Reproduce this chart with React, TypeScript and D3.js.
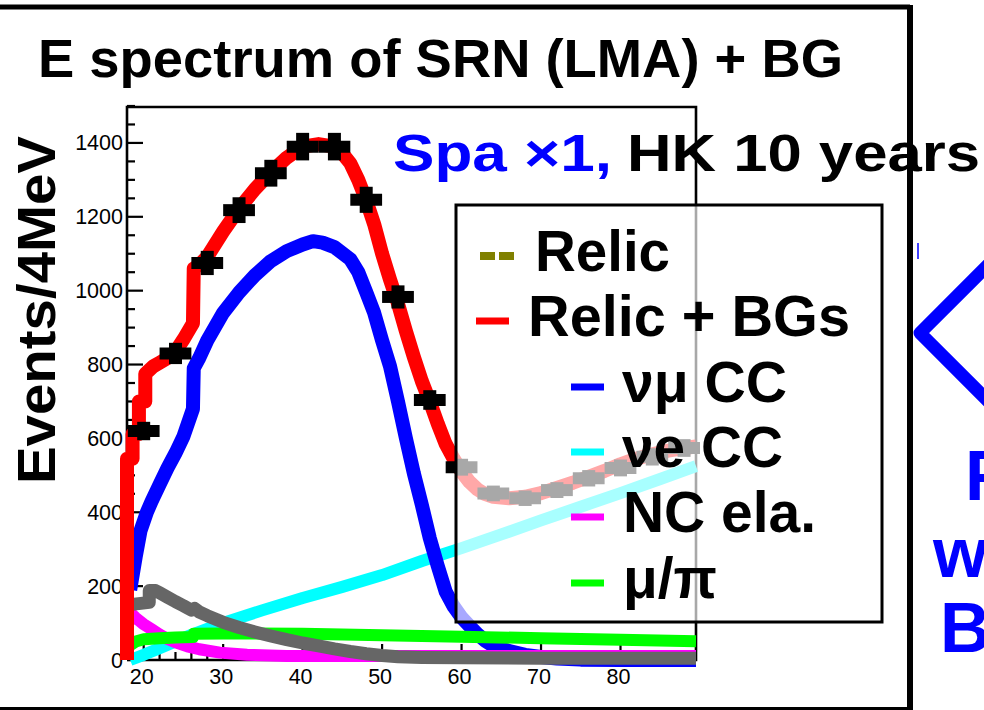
import React from 'react';
import * as d3 from 'd3';

const FONT = '"Liberation Sans", Arial, Helvetica, sans-serif';

// x: reconstructed energy (MeV), y: events / 4 MeV
const xDomain: [number, number] = [17.9, 89.5];
const yDomain: [number, number] = [0, 1500];
const xTickLabels = [20, 30, 40, 50, 60, 70, 80];
const yTickLabels = [0, 200, 400, 600, 800, 1000, 1200, 1400];

// Relic + BGs (red)
const redE = [17.9, 17.9, 18.6, 18.6, 19.4, 19.4, 20.2, 20.2, 21.2, 22, 23, 24, 25, 26.2, 26.3, 27, 28, 30, 32, 34, 36, 38, 40, 42, 44, 45, 46, 47, 48, 49, 50, 51, 52, 53, 54, 55, 56, 57, 58, 59, 60, 61, 62, 63, 64, 66, 68, 70, 72, 74, 76, 78, 80, 82, 84, 86, 88, 89.5];
const redV = [0, 545, 545, 612, 612, 700, 700, 775, 795, 805, 818, 835, 868, 912, 1060, 1070, 1092, 1160, 1222, 1275, 1320, 1360, 1390, 1397, 1390, 1372, 1345, 1300, 1245, 1180, 1100, 1030, 965, 890, 820, 755, 700, 640, 585, 545, 510, 482, 462, 449, 442, 438, 442, 452, 466, 480, 496, 512, 530, 545, 557, 567, 574, 578];

// numu CC (blue)
const blueE = [18.3, 19, 19.6, 20.4, 21, 22, 23, 24, 25, 26.2, 26.3, 27, 28, 30, 32, 34, 36, 38, 40, 41.3, 42.5, 44, 46, 47, 48, 49, 50, 51, 52, 53, 54, 55, 56, 57, 58, 59, 60, 61, 62, 63, 64, 66, 68, 70, 72, 75, 80, 89.5];
const blueV = [190, 280, 350, 400, 430, 475, 520, 560, 605, 680, 790, 818, 865, 940, 995, 1042, 1080, 1107, 1125, 1134, 1130, 1118, 1085, 1050, 996, 940, 865, 795, 700, 600, 505, 420, 330, 255, 185, 145, 115, 92, 70, 52, 38, 24, 14, 8, 4, 1, 0, 0];

// nue CC (cyan)
const cyanE = [18.3, 20, 22, 24, 26, 28, 30, 35, 40, 45, 50, 55, 60, 65, 70, 75, 80, 85, 89.5];
const cyanV = [0, 14, 32, 50, 68, 84, 100, 135, 168, 198, 230, 268, 303, 340, 378, 415, 452, 490, 525];

// NC elastic (magenta)
const magE = [18.3, 19, 20, 21, 22, 23, 24, 25.5, 27, 29.6, 33, 38, 45, 60, 89.5];
const magV = [128, 114, 97, 83, 69, 57, 48, 37, 29, 20, 14, 11, 11, 11, 11];

// mu/pi (green)
const greenE = [18.3, 19, 20, 22, 24, 26.2, 26.3, 30, 40, 50, 60, 70, 80, 89.5];
const greenV = [40, 50, 56, 59, 61, 62, 71, 72, 71, 67, 63, 59, 55, 51];

// other background (grey)
const grayE = [18.3, 20.7, 20.7, 21.5, 22, 23, 24, 25, 26, 26.4, 27, 28, 30, 32, 34, 36, 38, 40, 42, 44, 46, 48, 50, 52, 55, 60, 70, 80, 89.5];
const grayV = [150, 156, 188, 188, 182, 170, 158, 147, 135, 140, 130, 120, 102, 88, 76, 65, 55, 46, 38, 30, 23, 17, 12, 9, 7, 6, 5, 5, 5];

// pseudo data (black)
const dataE = [20, 24, 28, 32, 36, 40, 44, 48, 52, 56, 60, 64, 68, 72, 76, 80, 84, 88];
const dataV = [620, 830, 1075, 1218, 1318, 1390, 1390, 1246, 983, 704, 522, 451, 438, 460, 492, 520, 550, 574];

const legendLabels = ['Relic', 'Relic + BGs', 'νμ CC', 'νe CC', 'NC ela.', 'μ/π'];
const legendColors = ['#808000', '#ff0000', '#0000ff', '#00ffff', '#ff00ff', '#00ff00'];

export default function App() {
  const x = d3.scaleLinear().domain(xDomain).range([127, 696]);
  const y = d3.scaleLinear().domain(yDomain).range([660, 106]);
  const line = d3.line<[number, number]>().x(d => x(d[0])).y(d => y(d[1])).curve(d3.curveLinear);
  const mk = (E: number[], V: number[]) => line(E.map((e, i) => [e, V[i]] as [number, number])) || '';

  const yMinor = d3.range(0, 1501, 50);
  const xMinor = d3.range(18, 90, 2);

  const series = [
    { d: mk(cyanE, cyanV), c: '#00ffff', w: 12 },
    { d: mk(blueE, blueV), c: '#0000ff', w: 14 },
    { d: mk(magE, magV), c: '#ff00ff', w: 12 },
    { d: mk(greenE, greenV), c: '#00ff00', w: 12 },
    { d: mk(grayE, grayV), c: '#666666', w: 13 },
    { d: mk(redE, redV), c: '#ff0000', w: 14 },
  ];

  const legendY = [256, 321, 387, 452, 517, 583];
  const legendTextX = [535, 528, 622, 622, 623, 623];
  const legendTextLen = [135, 322, 165, 161, 193, 94];

  return (
    <svg width={984} height={710} style={{ position: 'absolute', left: 0, top: 0, background: '#fff' }} fontFamily={FONT}>
      <rect x={0} y={0} width={984} height={710} fill="#fff" />
      {/* title */}
      <text x={38} y={77} fontSize={54} fontWeight="bold" textLength={805} lengthAdjust="spacingAndGlyphs">E spectrum of SRN (LMA) + BG</text>
      {/* y label */}
      <text transform="translate(55,484) rotate(-90)" fontSize={54} fontWeight="bold" textLength={348} lengthAdjust="spacingAndGlyphs">Events/4MeV</text>

      {/* ticks */}
      <g stroke="#000" strokeWidth={2.2}>
        {yMinor.map(v => (
          <line key={'yt' + v} x1={127} x2={127 + (v % 200 === 0 ? 16 : 8)} y1={y(v)} y2={y(v)} />
        ))}
        {xMinor.map(v => (
          <line key={'xt' + v} x1={x(v)} x2={x(v)} y1={660} y2={660 - (v % 10 === 0 ? 16 : 8)} />
        ))}
      </g>
      {/* tick labels */}
      <g fontSize={21.5} fill="#000">
        {yTickLabels.map(v => (
          <text key={'yl' + v} x={123} y={y(v) + 7.5} textAnchor="end">{v}</text>
        ))}
        {xTickLabels.map(v => (
          <text key={'xl' + v} x={x(v) - 2} y={684} textAnchor="middle">{v}</text>
        ))}
      </g>

      {/* frame */}
      <path d={`M127,660 V107 H696 V660 H127`} fill="none" stroke="#000" strokeWidth={2.6} />

      {/* curves */}
      {series.map((s, i) => (
        <path key={'s' + i} d={s.d} fill="none" stroke={s.c} strokeWidth={s.w} strokeLinejoin="round" />
      ))}

      {/* data points */}
      <g stroke="#000">
        {dataE.map((e, i) => {
          const v = dataV[i];
          const err = Math.sqrt(v);
          return (
            <g key={'d' + i}>
              <line x1={x(e - 2)} x2={x(e + 2)} y1={y(v)} y2={y(v)} strokeWidth={12} />
              <line x1={x(e)} x2={x(e)} y1={y(v - err)} y2={y(v + err)} strokeWidth={13} />
            </g>
          );
        })}
      </g>

      {/* Spa text */}
      <text x={393} y={171} fontSize={51} fontWeight="bold" fill="#0000ff" textLength={219} lengthAdjust="spacingAndGlyphs">Spa ×1,</text>
      <text x={627} y={171} fontSize={51} fontWeight="bold" fill="#000" textLength={353} lengthAdjust="spacingAndGlyphs">HK 10 years</text>

      {/* legend */}
      <rect x={456} y={205} width={426} height={417} fill="#fff" fillOpacity={0.66} stroke="#000" strokeWidth={3} />
      {legendLabels.map((lab, i) => (
        <g key={'lg' + i}>
          {i === 0 ? (
            <line x1={480} x2={515} y1={legendY[i]} y2={legendY[i]} stroke={legendColors[i]} strokeWidth={8} strokeDasharray="15 4" />
          ) : (
            <line x1={i === 1 ? 476 : 571} x2={i === 1 ? 509 : 604} y1={legendY[i]} y2={legendY[i]} stroke={legendColors[i]} strokeWidth={7} />
          )}
          <text x={legendTextX[i]} y={legendY[i] + 15} fontSize={57} fontWeight="bold" textLength={legendTextLen[i]} lengthAdjust="spacingAndGlyphs">{lab}</text>
        </g>
      ))}

      {/* slide frame */}
      <path d="M-5,7 H910" stroke="#000" strokeWidth={5} fill="none" />
      <path d="M910,5 V712" stroke="#000" strokeWidth={6} fill="none" />
      <path d="M-5,708.5 H910" stroke="#000" strokeWidth={3} fill="none" />

      {/* right-side annotation (partly outside the slide crop) */}
      <line x1={918} x2={918} y1={243} y2={259} stroke="#0000ff" strokeWidth={1.5} />
      <polyline points="1000,253 920,333 1000,413" fill="none" stroke="#0000ff" strokeWidth={13} strokeLinejoin="round" />
      <g fill="#0000ff" fontSize={70} fontWeight="bold">
        <text x={965} y={500}>Relic</text>
        <text x={933} y={577}>with</text>
        <text x={940} y={652}>BG</text>
      </g>
    </svg>
  );
}
